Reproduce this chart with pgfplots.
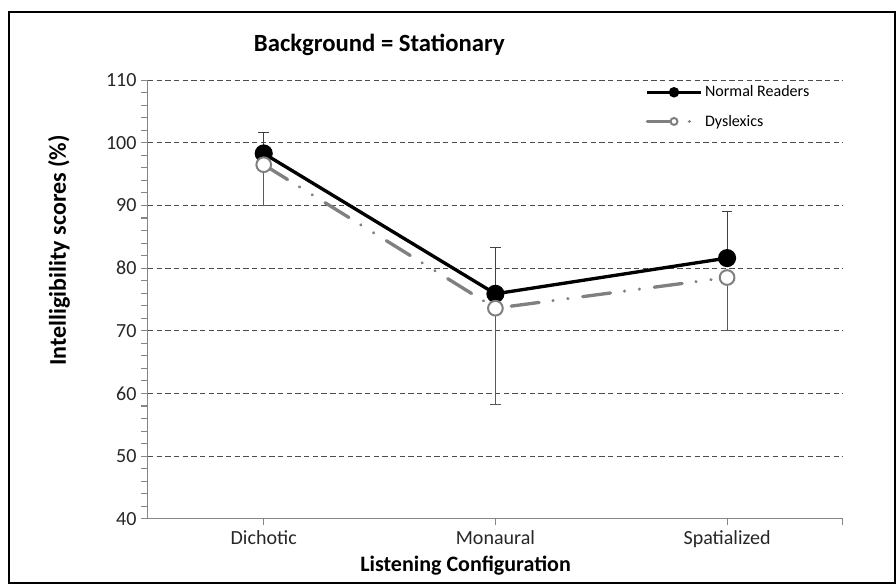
\documentclass[border=0pt]{standalone}
\usepackage{pgfplots}
\pgfplotsset{compat=1.18}
\usepackage{fontspec}
\setmainfont{Carlito}
\definecolor{dysgray}{HTML}{808080}
\definecolor{axgray}{HTML}{868686}
\begin{document}
\begin{tikzpicture}
\begin{axis}[
  name=ax,
  scale only axis,
  width=520.5pt, height=328.5pt,
  xmin=-0.5, xmax=2.5,
  ymin=40, ymax=110,
  ytick={40,50,...,110},
  minor y tick num=4,
  xtick={0,1,2},
  xticklabels={Dichotic,Monaural,Spatialized},
  extra x ticks={2.5}, extra x tick labels={},
  axis lines=left,
  axis line style={-, axgray, line width=0.8pt},
  tick style={axgray, line width=0.8pt},
  tick align=outside,
  major tick length=5pt, minor tick length=5pt,
  ymajorgrids,
  grid style={black!70, line width=0.8pt, dash pattern=on 4pt off 2.5pt},
  ticklabel style={font=\fontsize{15}{17}\selectfont, text=black!85},
  /pgf/number format/assume math mode=true,
  title={Background = Stationary},
  title style={at={(axis description cs:0.333,1.062)}, anchor=center,
    font=\bfseries\fontsize{18.5}{21}\selectfont},
  xlabel={Listening Configuration},
  xlabel style={at={(axis description cs:0.457,-0.107)}, anchor=center,
    font=\bfseries\fontsize{16.5}{19}\selectfont},
  ylabel={Intelligibility scores (\%)},
  ylabel style={at={(axis description cs:-0.128,0.612)}, anchor=center,
    font=\bfseries\fontsize{18}{21}\selectfont},
  legend style={at={(axis description cs:0.71,1.0)}, anchor=north west,
    draw=none, fill=none, font=\fontsize{12}{14}\selectfont,
    row sep=8pt, cells={anchor=west}},
  legend image code/.code={\draw[mark repeat=2, mark phase=2, mark size=2.6pt]
    plot coordinates {(0pt,0pt) (20pt,0pt) (40pt,0pt)};},
]

% error bars: upper part from normal readers, lower part from dyslexics
\addplot[draw=none, mark=none, forget plot,
  error bars/.cd, y dir=plus, y explicit,
  error bar style={draw=black!75, line width=0.75pt, solid},
  error mark options={rotate=90, mark size=4pt, draw=black!75, line width=0.75pt}]
coordinates {(0,98.3) +- (0,3.3) (1,75.9) +- (0,7.4) (2,81.6) +- (0,7.4)};

\addplot[draw=none, mark=none, forget plot,
  error bars/.cd, y dir=minus, y explicit,
  error bar style={draw=black!65, line width=0.75pt, solid},
  error mark options={rotate=90, mark size=4pt, draw=black!65, line width=0.75pt}]
coordinates {(0,96.5) +- (0,6.5) (1,73.6) +- (0,15.4) (2,78.5) +- (0,8.5)};

\addplot[black, line width=2.5pt, mark=*, mark size=5.5pt,
  mark options={solid, fill=black}]
coordinates {(0,98.3) (1,75.9) (2,81.6)};

\addplot[dysgray, line width=2.5pt, line cap=round,
  dash pattern=on 21pt off 10.5pt on 0.01pt off 11.25pt on 0.01pt off 11.25pt,
  mark=*, mark size=5.5pt,
  mark options={solid, fill=white, draw=dysgray, line width=1.5pt}]
coordinates {(0,96.5) (1,73.6) (2,78.5)};

\legend{Normal Readers, Dyslexics}
\end{axis}
\draw[line width=1pt] ([xshift=-104pt,yshift=-48pt]ax.south west)
  rectangle ([xshift=39pt,yshift=51pt]ax.north east);
\path ([xshift=-110.75pt,yshift=-48.75pt]ax.south west)
  rectangle ([xshift=39.75pt,yshift=60pt]ax.north east);
\end{tikzpicture}
\end{document}
